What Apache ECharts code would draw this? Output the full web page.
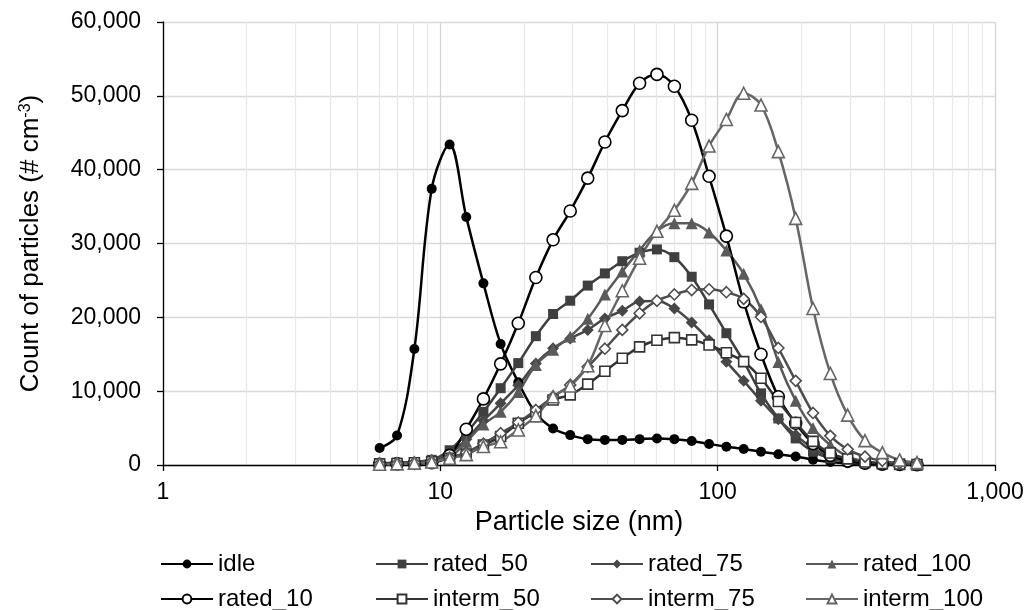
<!DOCTYPE html>
<html>
<head>
<meta charset="utf-8">
<script src="https://cdn.jsdelivr.net/npm/echarts@6/dist/echarts.min.js"></script>
<style>
html,body{margin:0;padding:0;background:#fff;}
#chart{width:1028px;height:610px;}
</style>
</head>
<body>
<div id="chart"></div>
<script>
// Particle sizes (nm)
const sizes = [6.04, 6.98, 8.06, 9.31, 10.8, 12.4, 14.3, 16.5, 19.1, 22.1, 25.5, 29.4, 34.0, 39.2, 45.3, 52.3, 60.4, 69.8, 80.6, 93.1, 107.5, 124.1, 143.3, 165.5, 191.1, 220.7, 254.8, 294.3, 339.8, 392.4, 453.1, 523.3];

const idle = [2300, 4000, 15700, 37400, 43400, 33600, 24600, 16400, 11200, 7000, 4950, 4050, 3500, 3400, 3400, 3500, 3600, 3500, 3250, 2850, 2480, 2170, 1800, 1450, 1150, 720, 420, 230, 120, 60, 30, 15];
const rated_50 = [200, 300, 400, 700, 2000, 4300, 7200, 10400, 13800, 17450, 20450, 22250, 24300, 25950, 27600, 28750, 29200, 28150, 25500, 21750, 17850, 14000, 9700, 6300, 3600, 1800, 900, 420, 200, 100, 50, 20];
const rated_75 = [200, 300, 400, 700, 1500, 3500, 6000, 8350, 10800, 13750, 15800, 17150, 18300, 19850, 20900, 22150, 22200, 21200, 19300, 16900, 14000, 11400, 8700, 6200, 4050, 2250, 1050, 450, 200, 100, 50, 20];
const rated_100 = [200, 250, 350, 500, 1000, 3150, 5500, 7200, 9900, 13550, 15600, 17400, 19800, 23100, 26200, 29100, 31700, 32750, 32750, 31500, 29050, 25900, 21100, 13950, 8700, 5000, 2700, 1150, 500, 220, 100, 40];
const rated_10 = [100, 150, 200, 300, 1300, 4850, 8950, 13700, 19200, 25400, 30500, 34400, 38850, 43750, 48000, 51700, 52900, 51300, 46700, 39100, 31000, 22100, 15000, 9250, 5650, 2900, 1300, 550, 250, 120, 60, 30];
const interm_50 = [150, 200, 300, 450, 900, 1500, 2700, 3850, 5650, 7200, 8800, 9500, 10950, 12700, 14450, 16000, 16900, 17250, 16950, 16250, 15200, 14000, 11750, 8600, 5750, 3200, 1620, 830, 400, 200, 120, 50];
const interm_75 = [150, 200, 300, 450, 1000, 1700, 2900, 4300, 5750, 7450, 9250, 10850, 13300, 15750, 18300, 20550, 22250, 23100, 23700, 23800, 23400, 22500, 20050, 15850, 11400, 7050, 3950, 2120, 1130, 560, 260, 140];
const interm_100 = [100, 150, 250, 400, 900, 1400, 2500, 3150, 4750, 6650, 9250, 10700, 13450, 18900, 23600, 28000, 31650, 34500, 38150, 43200, 46800, 50350, 48750, 42450, 33400, 21200, 12400, 6750, 3300, 1670, 680, 320];

// Legend layout: row-major, 4 columns
const legendRows = [
  ['idle', 'rated_50', 'rated_75', 'rated_100'],
  ['rated_10', 'interm_50', 'interm_75', 'interm_100']
];

const FONT = "'Liberation Sans', Arial, sans-serif";

function pairs(vals) { return sizes.map((s, i) => [s, vals[i]]); }

function mk(name, vals, color, symbol, size, open) {
  return {
    name: name,
    type: 'line',
    data: pairs(vals),
    smooth: 0.35,
    symbol: symbol,
    symbolSize: size,
    showAllSymbol: true,
    lineStyle: { color: color, width: 2.5 },
    itemStyle: open ? { color: '#ffffff', borderColor: color, borderWidth: 1.6 } : { color: color, borderColor: color, borderWidth: 0 },
    color: color,
    z: 3
  };
}

const series = [
  mk('idle', idle, '#000000', 'circle', 10, false),
  mk('rated_50', rated_50, '#3f3f3f', 'rect', 10, false),
  mk('rated_75', rated_75, '#474747', 'diamond', 12, false),
  mk('rated_100', rated_100, '#5a5a5a', 'triangle', 12, false),
  mk('rated_10', rated_10, '#000000', 'circle', 12, true),
  mk('interm_50', interm_50, '#333333', 'rect', 10, true),
  mk('interm_75', interm_75, '#4d4d4d', 'diamond', 11, true),
  mk('interm_100', interm_100, '#666666', 'triangle', 12, true)
];

const colLeft = [160, 375, 590, 805];
const rowTop = [552, 587];
const legends = [];
legendRows.forEach((row, r) => {
  row.forEach((name, c) => {
    legends.push({
      data: [name],
      orient: 'horizontal',
      left: colLeft[c],
      top: rowTop[r],
      itemWidth: 52,
      itemHeight: 11,
      padding: 0,
      textStyle: { fontFamily: FONT, fontSize: 24, color: '#000', lineHeight: 22 }
    });
  });
});

const fmt = v => Number(v).toLocaleString('en-US');

const chart = echarts.init(document.getElementById('chart'), null, { renderer: 'canvas' });
chart.setOption({
  animation: false,
  backgroundColor: '#ffffff',
  textStyle: { fontFamily: FONT },
  grid: { left: 163, right: 33, top: 22, bottom: 145, containLabel: false },
  legend: legends,
  xAxis: {
    type: 'log',
    logBase: 10,
    min: 1,
    max: 1000,
    name: 'Particle size (nm)',
    nameLocation: 'middle',
    nameGap: 44,
    nameTextStyle: { fontFamily: FONT, fontSize: 27, color: '#000' },
    axisLine: { show: true, lineStyle: { color: '#000', width: 1.3 } },
    axisTick: { show: true, length: 6, lineStyle: { color: '#000', width: 1.3 } },
    axisLabel: { fontFamily: FONT, fontSize: 23, color: '#000', margin: 16, formatter: fmt },
    splitLine: { show: true, lineStyle: { color: '#d4d4d4', width: 1.3 } },
    minorTick: { show: false, splitNumber: 9 },
    minorSplitLine: { show: true, lineStyle: { color: '#e9e9e9', width: 1.3 } }
  },
  yAxis: {
    type: 'value',
    min: 0,
    max: 60000,
    interval: 10000,
    name: 'Count of particles (# cm{sup|-3})',
    nameLocation: 'middle',
    nameGap: 119,
    nameTextStyle: {
      fontFamily: FONT, fontSize: 26, color: '#000',
      rich: {
        sup: { fontFamily: FONT, fontSize: 16, color: '#000', verticalAlign: 'top', padding: [0, 0, 10, 0] }
      }
    },
    axisLine: { show: true, lineStyle: { color: '#000', width: 1.3 } },
    axisTick: { show: true, length: 6, lineStyle: { color: '#000', width: 1.3 } },
    axisLabel: { fontFamily: FONT, fontSize: 23, color: '#000', margin: 22, formatter: fmt },
    splitLine: { show: true, lineStyle: { color: '#d9d9d9', width: 1.3 } }
  },
  series: series
});
</script>
</body>
</html>
